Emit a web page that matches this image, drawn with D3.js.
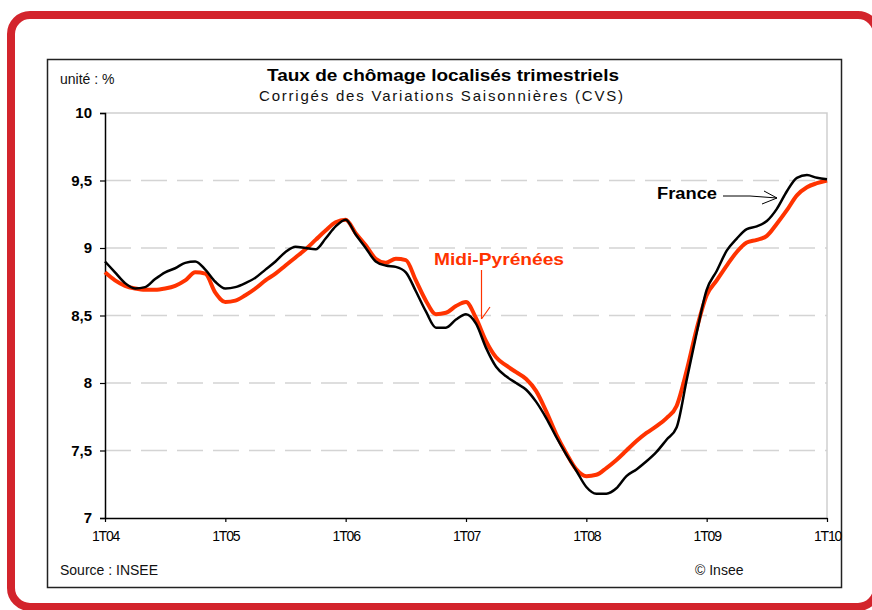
<!DOCTYPE html>
<html><head><meta charset="utf-8">
<script src="https://cdn.jsdelivr.net/npm/d3@7"></script>
<style>
html,body{margin:0;padding:0;background:#fff;}
svg{display:block;font-family:"Liberation Sans",Arial,sans-serif;}
</style></head>
<body>
<svg id="chart" width="872" height="610"></svg>
<script>
// ---- data (monthly readings, Jan 2004 .. Jan 2010) ----
const xTickLabels = ["1T04","1T05","1T06","1T07","1T08","1T09","1T10"];
const yTicks = [7, 7.5, 8, 8.5, 9, 9.5, 10];
const france = [
 8.90,8.82,8.74,8.70,8.71,8.77,8.82,8.85,8.89,8.90,8.84,8.75,
 8.70,8.71,8.74,8.78,8.84,8.90,8.97,9.01,9.00,8.99,9.07,9.16,
 9.21,9.10,9.00,8.90,8.87,8.86,8.82,8.68,8.53,8.41,8.41,8.47,
 8.51,8.44,8.26,8.12,8.05,8.00,7.95,7.86,7.74,7.60,7.47,7.35,
 7.23,7.18,7.18,7.22,7.31,7.36,7.42,7.49,7.58,7.67,8.02,8.37,
 8.69,8.83,8.98,9.07,9.14,9.16,9.20,9.29,9.42,9.52,9.54,9.52,
 9.51];
const midiPyrenees = [
 8.82,8.76,8.72,8.70,8.69,8.69,8.70,8.72,8.76,8.82,8.81,8.67,
 8.60,8.61,8.65,8.70,8.76,8.81,8.87,8.93,8.99,9.06,9.13,9.19,
 9.21,9.11,9.02,8.92,8.89,8.92,8.91,8.76,8.61,8.51,8.52,8.57,
 8.60,8.48,8.31,8.19,8.13,8.08,8.03,7.94,7.79,7.62,7.48,7.36,
 7.31,7.32,7.37,7.43,7.50,7.57,7.63,7.68,7.74,7.83,8.09,8.40,
 8.65,8.76,8.87,8.97,9.04,9.06,9.09,9.18,9.28,9.39,9.45,9.48,
 9.50];
const seriesNames = ["France","Midi-Pyrénées"];

const svg = d3.select("#chart");
const RED = "#ff3300";

// outer red frame
svg.append("rect").attr("x",11).attr("y",15).attr("width",866).attr("height",592)
  .attr("rx",19).attr("fill","none").attr("stroke","#d3242c").attr("stroke-width",8);

// inner box
svg.append("rect").attr("x",47.5).attr("y",59.5).attr("width",794).attr("height",528)
  .attr("fill","#fff").attr("stroke","#222").attr("stroke-width",1.5);

const L=105, R=827, T=113, B=518;
const x = d3.scaleLinear().domain([0, france.length-1]).range([L,R]);
const y = d3.scaleLinear().domain([7,10]).range([B,T]);

// gridlines
svg.append("g").selectAll("line").data(yTicks.filter(v=>v>7 && v<10)).join("line")
  .attr("x1",L).attr("x2",R).attr("y1",d=>y(d)).attr("y2",d=>y(d))
  .attr("stroke","#d4d4d4").attr("stroke-width",1.5).attr("stroke-dasharray","26,10");

// plot border top/right
svg.append("path").attr("d",`M${L},${T}H${R}V${B}`).attr("fill","none")
  .attr("stroke","#cfcfcf").attr("stroke-width",1.5);

// axes
const yAxis = d3.axisLeft(y).tickValues(yTicks).tickSize(5).tickPadding(8)
  .tickFormat(d=>String(d).replace(".",","));
const gy = svg.append("g").attr("transform",`translate(${L},0)`).call(yAxis);
gy.select(".domain").attr("stroke","#000").attr("stroke-width",1.5);
gy.selectAll(".tick line").attr("stroke","#000").attr("stroke-width",1.2);
gy.selectAll("text").attr("font-family","Liberation Sans, Arial, sans-serif")
  .attr("font-size",15).attr("font-weight","bold").attr("fill","#000");

const xAxis = d3.axisBottom(x).tickValues(d3.range(0, france.length, 12)).tickSize(4).tickSizeOuter(0).tickPadding(9)
  .tickFormat((d,i)=>xTickLabels[i]);
const gx = svg.append("g").attr("transform",`translate(0,${B})`).call(xAxis);
gx.select(".domain").attr("stroke","#000").attr("stroke-width",1.5);
gx.selectAll(".tick line").attr("stroke","#000").attr("stroke-width",1.2);
gx.selectAll("text").attr("font-family","Liberation Sans, Arial, sans-serif")
  .attr("font-size",14).attr("letter-spacing","-1.2px").attr("fill","#000");

// lines
const line = d3.line().x((d,i)=>x(i)).y(d=>y(d)).curve(d3.curveMonotoneX);
svg.append("path").datum(midiPyrenees).attr("d",line).attr("fill","none")
  .attr("stroke",RED).attr("stroke-width",4).attr("stroke-linejoin","round");
svg.append("path").datum(france).attr("d",line).attr("fill","none")
  .attr("stroke","#000").attr("stroke-width",2.5).attr("stroke-linejoin","round");

// titles
svg.append("text").attr("x",443).attr("y",81).attr("text-anchor","middle")
  .attr("font-size",16).attr("font-weight","bold").attr("fill","#000")
  .attr("textLength",352).attr("lengthAdjust","spacingAndGlyphs")
  .text("Taux de chômage localisés trimestriels");
svg.append("text").attr("x",441).attr("y",101).attr("text-anchor","middle")
  .attr("font-size",15).attr("fill","#111")
  .attr("textLength",364).attr("lengthAdjust","spacing")
  .text("Corrigés des Variations Saisonnières (CVS)");
svg.append("text").attr("x",60).attr("y",84).attr("font-size",14).attr("fill","#111")
  .text("unité : %");
svg.append("text").attr("x",60).attr("y",575).attr("font-size",14).attr("fill","#111")
  .text("Source : INSEE");
svg.append("text").attr("x",695).attr("y",575).attr("font-size",14).attr("fill","#111")
  .text("© Insee");

// annotations
svg.append("text").attr("x",434).attr("y",265).attr("font-size",17).attr("font-weight","bold")
  .attr("fill",RED).attr("textLength",130).attr("lengthAdjust","spacingAndGlyphs").text(seriesNames[1]);
svg.append("path").attr("d","M481.5,270V319M481.5,319L490,307").attr("fill","none")
  .attr("stroke",RED).attr("stroke-width",1.2);

svg.append("text").attr("x",657).attr("y",199).attr("font-size",16).attr("font-weight","bold")
  .attr("fill","#000").attr("textLength",60).attr("lengthAdjust","spacingAndGlyphs").text(seriesNames[0]);
svg.append("path").attr("d","M723,196H750L777,198M764,191L777,198L762,204").attr("fill","none")
  .attr("stroke","#000").attr("stroke-width",1);
</script>
</body></html>
